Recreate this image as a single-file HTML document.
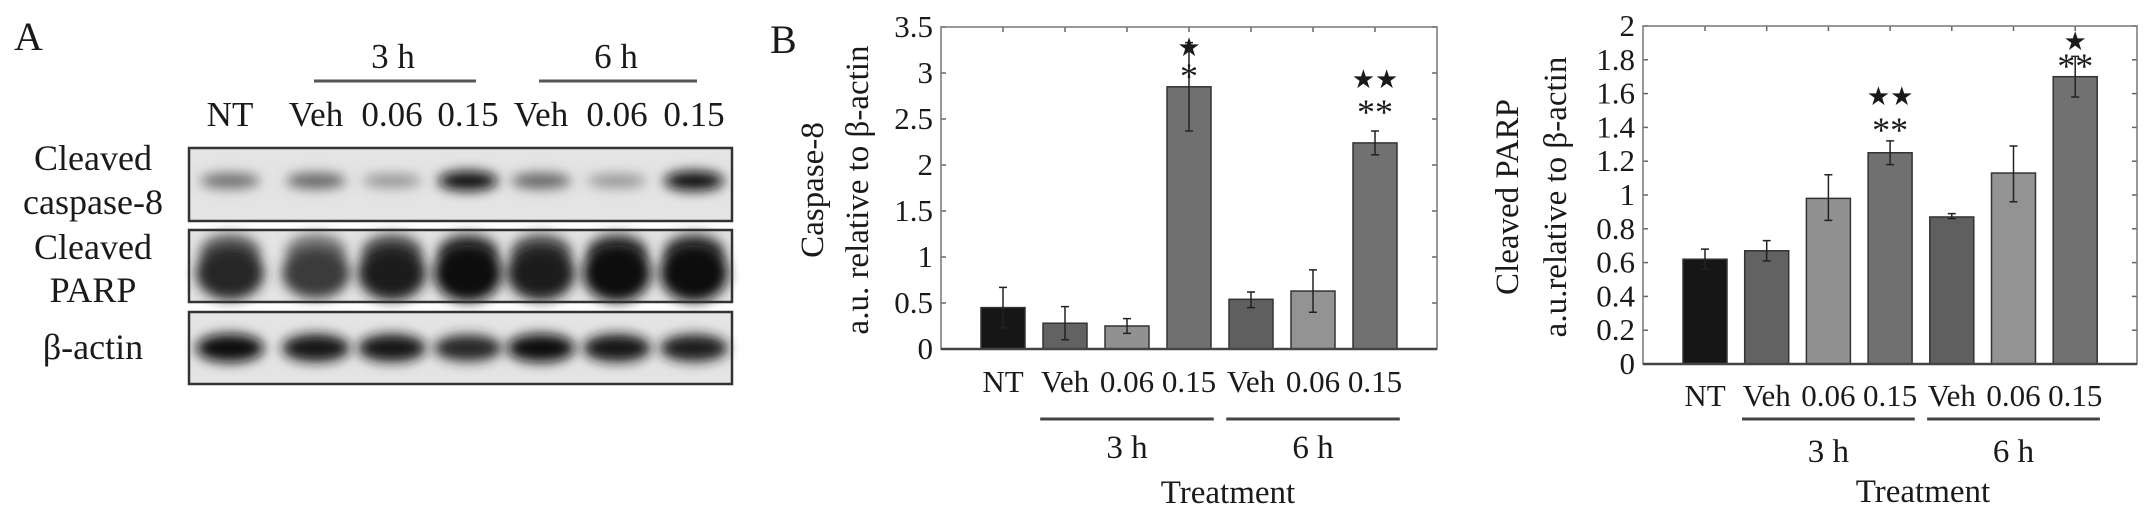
<!DOCTYPE html>
<html><head><meta charset="utf-8"><style>
body{margin:0;background:#fff}
svg{display:block}
text{font-family:"Liberation Serif",serif;fill:#1a1a1a}
</style></head><body>
<svg id="fig" width="2150" height="518" viewBox="0 0 2150 518" xmlns="http://www.w3.org/2000/svg">
<defs>
<filter id="blur6" x="-50%" y="-100%" width="200%" height="300%"><feGaussianBlur stdDeviation="6"/></filter>
</defs>
<text x="14" y="50" font-size="40">A</text>
<text x="770" y="53" font-size="40">B</text>
<g id="blot"></g>
<g id="c1"></g>
<g id="c2"></g>
</svg>
<script>
const NS="http://www.w3.org/2000/svg";
function mk(parent,tag,attrs,txt){const e=document.createElementNS(NS,tag);for(const k in attrs)e.setAttribute(k,attrs[k]);if(txt!==undefined)e.textContent=txt;parent.appendChild(e);return e;}

// ---- data ----
const categories=["NT","Veh","0.06","0.15","Veh","0.06","0.15"];
const groups=["3 h","6 h"];
const casp8Values=[0.45,0.28,0.25,2.85,0.54,0.63,2.24];
const casp8Lo=[0.23,0.10,0.17,2.37,0.45,0.40,2.11];
const casp8Hi=[0.67,0.46,0.33,3.33,0.62,0.86,2.37];
const casp8Ticks=["0","0.5","1","1.5","2","2.5","3","3.5"];
const parpValues=[0.62,0.67,0.98,1.25,0.87,1.13,1.70];
const parpLo=[0.56,0.61,0.85,1.18,0.86,0.96,1.58];
const parpHi=[0.68,0.73,1.12,1.32,0.89,1.29,1.82];
const parpTicks=["0","0.2","0.4","0.6","0.8","1","1.2","1.4","1.6","1.8","2"];
const barColors=["#161616","#626262","#919191","#707070","#5f5f5f","#939393","#717171"];
const bandCasp=[0.5,0.55,0.3,1.0,0.55,0.3,1.0];
const bandParp=[0.85,0.75,0.9,1.0,0.9,1.0,1.0];
const bandActin=[1.0,0.95,0.95,0.85,1.0,0.95,0.9];

// ---- blot panel ----
const blot=document.getElementById('blot');
const laneX=[230,316,392,468,541,617,694];
categories.forEach((c,i)=>{
  const t=mk(blot,'text',{x:laneX[i],y:126,'font-size':35,'text-anchor':'middle'},c);
  
  
});
[[314,476,393,"3 h"],[539,697,616,"6 h"]].forEach((g,i)=>{
  const l=mk(blot,'line',{x1:g[0],x2:g[1],y1:81,y2:81,stroke:'#555','stroke-width':3});
  
  
  const t=mk(blot,'text',{x:g[2],y:68,'font-size':35,'text-anchor':'middle'},g[3]);
  
  
});
const rows=[{y:148,h:73,bands:bandCasp,by:0.45,bh:9,rx:30,name:'caspase8-blot'},{y:230,h:72,bands:bandParp,by:0.6,bh:26,rx:34,name:'parp-blot'},{y:312,h:72,bands:bandActin,by:0.5,bh:13,rx:34,name:'actin-blot'}];
rows.forEach(r=>{
  const g=mk(blot,'g',{});
  
  
  mk(g,'rect',{x:189,y:r.y,width:543,height:r.h,fill:'#e4e4e4'});
  r.bands.forEach((v,i)=>{
    const gray=Math.round(205-195*v);
    if(r.name==='parp-blot') mk(g,'ellipse',{cx:laneX[i],cy:r.y+r.h*0.3,rx:30,ry:18,fill:`rgb(${gray+60},${gray+60},${gray+60})`,filter:'url(#blur6)'});
    mk(g,'ellipse',{cx:laneX[i],cy:r.y+r.h*r.by,rx:r.rx,ry:r.bh*(0.6+0.5*v),fill:`rgb(${gray},${gray},${gray})`,filter:'url(#blur6)'});
  });
  mk(g,'rect',{x:189,y:r.y,width:543,height:r.h,fill:'none',stroke:'#333','stroke-width':2.5});
});
[["Cleaved",170],["caspase-8",214],["Cleaved",259],["PARP",302],["β-actin",359]].forEach((l,i)=>{
  const t=mk(blot,'text',{x:93,y:l[1],'font-size':36,'text-anchor':'middle'},l[0]);
  
  
});

// ---- bar chart ----
function chart(gid,cfg){
  const g=document.getElementById(gid);
  const yMax=cfg.yMax;
  const Y=v=>cfg.bottom-(v/yMax)*(cfg.bottom-cfg.top);
  const X=i=>cfg.x0+i*cfg.step;
  cfg.ticks.forEach((t,i)=>{
    const v=parseFloat(t),y=Y(v);
    const tl=mk(g,'text',{x:cfg.left-8,y:y+10,'font-size':31,'text-anchor':'end'},t);
    
    
    mk(g,'line',{x1:cfg.left,x2:cfg.left+5,y1:y,y2:y,stroke:'#666','stroke-width':1.5});
    mk(g,'line',{x1:cfg.right-5,x2:cfg.right,y1:y,y2:y,stroke:'#666','stroke-width':1.5});
  });
  categories.forEach((c,i)=>{
    mk(g,'line',{x1:X(i),x2:X(i),y1:cfg.top,y2:cfg.top+5,stroke:'#666','stroke-width':1.5});
  });
  cfg.values.forEach((v,i)=>{
    const b=mk(g,'rect',{x:X(i)-cfg.bw/2,y:Y(v),width:cfg.bw,height:cfg.bottom-Y(v),fill:barColors[i],stroke:'#333','stroke-width':1.5});
    
    
    const e=mk(g,'path',{d:`M${X(i)},${Y(cfg.lo[i])}V${Y(cfg.hi[i])}M${X(i)-4},${Y(cfg.lo[i])}H${X(i)+4}M${X(i)-4},${Y(cfg.hi[i])}H${X(i)+4}`,stroke:'#222','stroke-width':1.5,fill:'none'});
    
    
    const t=mk(g,'text',{x:X(i),y:cfg.xlabY,'font-size':31,'text-anchor':'middle'},categories[i]);
    
    
  });
  const ax=mk(g,'rect',{x:cfg.left,y:cfg.top,width:cfg.right-cfg.left,height:cfg.bottom-cfg.top,fill:'none',stroke:'#777','stroke-width':1.5});
  
  
  mk(g,'line',{x1:cfg.left,x2:cfg.right,y1:cfg.bottom,y2:cfg.bottom,stroke:'#444','stroke-width':2.5});
  groups.forEach((gr,k)=>{
    const a=X(1+3*k)-cfg.step*0.4,b=X(3+3*k)+cfg.step*0.4;
    const l=mk(g,'line',{x1:a,x2:b,y1:419,y2:419,stroke:'#444','stroke-width':3});
    
    
    const t=mk(g,'text',{x:(a+b)/2,y:cfg.grpY,'font-size':33,'text-anchor':'middle'},gr);
    
    
  });
  const xt=mk(g,'text',{x:cfg.xtX,y:cfg.xtY,'font-size':33,'text-anchor':'middle'},'Treatment');
  
  
  cfg.ytitle.forEach((s,k)=>{
    const t=mk(g,'text',{x:0,y:0,'font-size':33,'text-anchor':'middle',transform:`translate(${cfg.ytX[k]},${cfg.ytY}) rotate(-90)`},s);
    
    
  });
  cfg.stars.forEach(s=>{
    const t=mk(g,'text',{x:X(s[0]),y:s[2],'font-size':s[3],'text-anchor':'middle',fill:s[4]},s[1]);
    
    
  });
}
chart('c1',{left:941,right:1437,top:27,bottom:349,yMax:3.5,x0:1003,step:62,bw:44,values:casp8Values,lo:casp8Lo,hi:casp8Hi,ticks:casp8Ticks,xlabY:392,grpY:458,xtX:1228,xtY:503,ytitle:["Caspase-8","a.u. relative to β-actin"],ytX:[823,868],ytY:190,
 stars:[[3,"★",56,26,"#111"],[3,"*",88,36,"#444"],[6,"★★",88,26,"#111"],[6,"**",124,36,"#444"]]});
chart('c2',{left:1643,right:2137,top:26,bottom:364,yMax:2,x0:1705,step:61.7,bw:44,values:parpValues,lo:parpLo,hi:parpHi,ticks:parpTicks,xlabY:406,grpY:462,xtX:1923,xtY:502,ytitle:["Cleaved PARP","a.u.relative to β-actin"],ytX:[1518,1566],ytY:197,
 stars:[[3,"★★",105,26,"#111"],[3,"**",142,36,"#444"],[6,"★",50,26,"#111"],[6,"**",78,36,"#444"]]});
</script>
</body></html>
